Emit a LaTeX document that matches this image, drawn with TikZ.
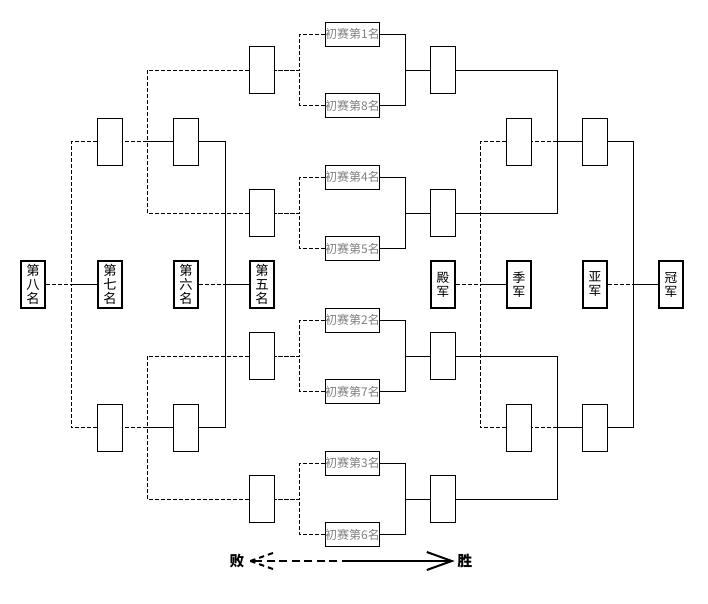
\documentclass[tikz,border=0pt]{standalone}
\usepackage{fontspec}
\setmainfont{Noto Sans CJK SC}
\usepackage{tikz}
\usetikzlibrary{arrows.meta}
\definecolor{seedgray}{RGB}{128,128,128}

\begin{document}
\begin{tikzpicture}[x=0.75pt, y=-0.75pt,
    box/.style={draw, line width=0.75pt, minimum width=18.75pt, minimum height=35.25pt, inner sep=0pt},
    rank/.style={draw, line width=1.8pt, minimum width=18.2pt, minimum height=35pt, inner sep=0pt, align=center, font=\fontsize{10}{10.5}\selectfont},
    seed/.style={draw, line width=0.75pt, minimum width=40.5pt, minimum height=18pt, inner sep=0pt, text=seedgray, font=\fontsize{9}{9}\selectfont},
    win/.style={line width=0.75pt},
    lose/.style={line width=0.75pt, dash pattern=on 3pt off 1.5pt},
    legend/.style={line width=1.5pt}]

  \useasboundingbox (0,0) rectangle (708,604);

  % Seeds
  \foreach \n/\y in {1/34, 8/105.5, 4/177, 5/248.5, 2/320, 7/391.5, 3/463, 6/534.5}
    \node[seed] (s\n) at (352.5,\y) {初赛第{\n}名};

  % First round boxes
  \foreach \i/\y in {1/70, 2/213, 3/356, 4/499} {
    \node[box] (l\i) at (262,\y) {};
    \node[box] (w\i) at (443,\y) {};
  }

  % Second round boxes
  \node[box] (a1) at (110,141.5) {};
  \node[box] (b1) at (186,141.5) {};
  \node[box] (a2) at (110,427.5) {};
  \node[box] (b2) at (186,427.5) {};
  \node[box] (c1) at (519,141.5) {};
  \node[box] (d1) at (595,141.5) {};
  \node[box] (c2) at (519,427.5) {};
  \node[box] (d2) at (595,427.5) {};

  % Places
  \node[rank] (r8) at (33,284.5) {第\\八\\名};
  \node[rank] (r7) at (110,284.5) {第\\七\\名};
  \node[rank] (r6) at (186,284.5) {第\\六\\名};
  \node[rank] (r5) at (262,284.5) {第\\五\\名};
  \node[rank, font=\fontsize{9.5}{10.5}\selectfont] (r4) at (443,284.5) {殿\\军};
  \node[rank, font=\fontsize{9.5}{10.5}\selectfont] (r3) at (519,284.5) {季\\军};
  \node[rank, font=\fontsize{9.5}{10.5}\selectfont] (r2) at (595,284.5) {亚\\军};
  \node[rank, font=\fontsize{9.5}{10.5}\selectfont] (r1) at (671,284.5) {冠\\军};

  % Junctions
  \coordinate (lj1) at (147,141.5);
  \coordinate (lj2) at (147,427.5);
  \coordinate (wj1) at (557,141.5);
  \coordinate (wj2) at (557,427.5);
  \coordinate (aj) at (71,284.5);
  \coordinate (bj) at (225,284.5);
  \coordinate (cj) at (480,284.5);
  \coordinate (dj) at (633,284.5);

  % Seeds to first round
  \foreach \a/\b/\i in {1/8/1, 4/5/2, 2/7/3, 3/6/4} {
    \draw[win] (s\a.east) -- ++(25,0) |- (w\i.west);
    \draw[win] (s\b.east) -- ++(25,0) |- (w\i.west);
    \draw[lose] (s\a.west) -- ++(-25,0) |- (l\i.east);
    \draw[lose] (s\b.west) -- ++(-25,0) |- (l\i.east);
  }

  % Winners side
  \draw[win] (w1.east) -| (wj1) -- (d1.west);
  \draw[win] (w2.east) -| (wj1);
  \draw[lose] (wj1) -- (c1.east);
  \draw[win] (w3.east) -| (wj2) -- (d2.west);
  \draw[win] (w4.east) -| (wj2);
  \draw[lose] (wj2) -- (c2.east);

  \draw[win] (d1.east) -| (dj) -- (r1.west);
  \draw[win] (d2.east) -| (dj);
  \draw[lose] (r2.east) -- (dj);
  \draw[lose] (c1.west) -| (cj);
  \draw[lose] (c2.west) -| (cj);
  \draw[win] (cj) -- (r3.west);
  \draw[lose] (r4.east) -- (cj);

  % Losers side
  \draw[lose] (l1.west) -| (lj1) -- (a1.east);
  \draw[lose] (l2.west) -| (lj1);
  \draw[win] (lj1) -- (b1.west);
  \draw[lose] (l3.west) -| (lj2) -- (a2.east);
  \draw[lose] (l4.west) -| (lj2);
  \draw[win] (lj2) -- (b2.west);

  \draw[win] (b1.east) -| (bj) -- (r5.west);
  \draw[win] (b2.east) -| (bj);
  \draw[lose] (r6.east) -- (bj);
  \draw[lose] (a1.west) -| (aj);
  \draw[lose] (a2.west) -| (aj);
  \draw[win] (aj) -- (r7.west);
  \draw[lose] (r8.east) -- (aj);

  % Legend
  \node[font=\bfseries\fontsize{11}{11}\selectfont, inner ysep=0pt, inner xsep=4.3pt] (lost) at (237,561) {败};
  \node[font=\bfseries\fontsize{11}{11}\selectfont, inner ysep=0pt, inner xsep=2pt] (won) at (465,561) {胜};
  \coordinate (mid) at (350,561);
  \draw[legend, dash pattern=on 6pt off 3.4pt] (mid) -- (lost.east);
  \draw[legend, dash pattern=on 4pt off 3pt] (lost.east) -- ++(24,-8.5) (lost.east) -- ++(24,8.5);
  \draw[legend, -{Straight Barb[length=18.75pt, width=13.5pt]}] (mid) -- (won.west);
\end{tikzpicture}
\end{document}
